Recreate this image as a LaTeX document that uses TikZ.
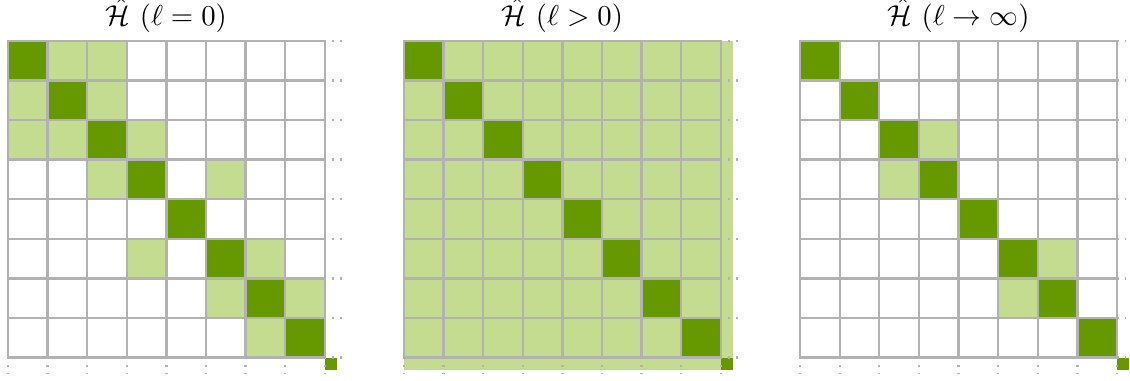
\documentclass[tikz,border=0pt]{standalone}
\usepackage{xcolor}
\usepackage{tikz}

\definecolor{leafgreen}{RGB}{102,153,0}
\definecolor{paleleaf}{HTML}{C3DC90}

\begin{document}
\begin{tikzpicture}[x=0.53cm, y=0.53cm,
    strong/.style={fill=leafgreen},
    weak/.style={fill=paleleaf},
    gridline/.style={draw=gray!60, line width=0.9pt, line cap=rect},
    trail/.style={draw=gray!60, line width=0.9pt, dash pattern=on 0.6pt off 2.3pt},
    heading/.style={anchor=base, font=\fontsize{10.8pt}{13pt}\selectfont}
]
    % Frame of the page
    \useasboundingbox (-0.2,1.03) rectangle (28.33,-8.57);

    % Titles
    \node[heading] (title0) at (4,0.39) {$\hat{\mathcal{H}}~(\ell=0)$};
    \node[heading] (title1) at (14,0.39) {$\hat{\mathcal{H}}~(\ell>0)$};
    \node[heading] (title2) at (24,0.39) {$\hat{\mathcal{H}}~(\ell\to\infty)$};

    % Left matrix, couplings near the diagonal
    \foreach \r/\c in {1/2,1/3,2/1,2/3,3/1,3/2,3/4,4/3,4/6,6/4,6/7,7/6,7/8,8/7}
        \fill[weak] (\c-1,-\r) rectangle ++(1,1);

    % Middle matrix, all coupled
    \fill[weak] (10,0) rectangle (18.3,-8.3);

    % Right matrix, pairs only
    \foreach \r/\c in {3/4,4/3,6/7,7/6}
        \fill[weak] (20+\c-1,-\r) rectangle ++(1,1);

    % Diagonals
    \foreach \s in {0,10,20} {
        \foreach \i in {1,...,8}
            \fill[strong] (\s+\i-1,-\i) rectangle ++(1,1);
        \fill[strong] (\s+8,-8) rectangle ++(0.3,-0.3);
    }

    % Grids and their dotted tails
    \foreach \s in {0,10,20} {
        \foreach \k in {0,...,8} {
            \draw[gridline] (\s,-\k) -- ++(8,0);
            \draw[gridline] (\s+\k,0) -- ++(0,-8);
            \draw[trail] (\s+8,-\k) -- ++(0.45,0);
            \draw[trail] (\s+\k,-8) -- ++(0,-0.45);
        }
    }
\end{tikzpicture}
\end{document}
